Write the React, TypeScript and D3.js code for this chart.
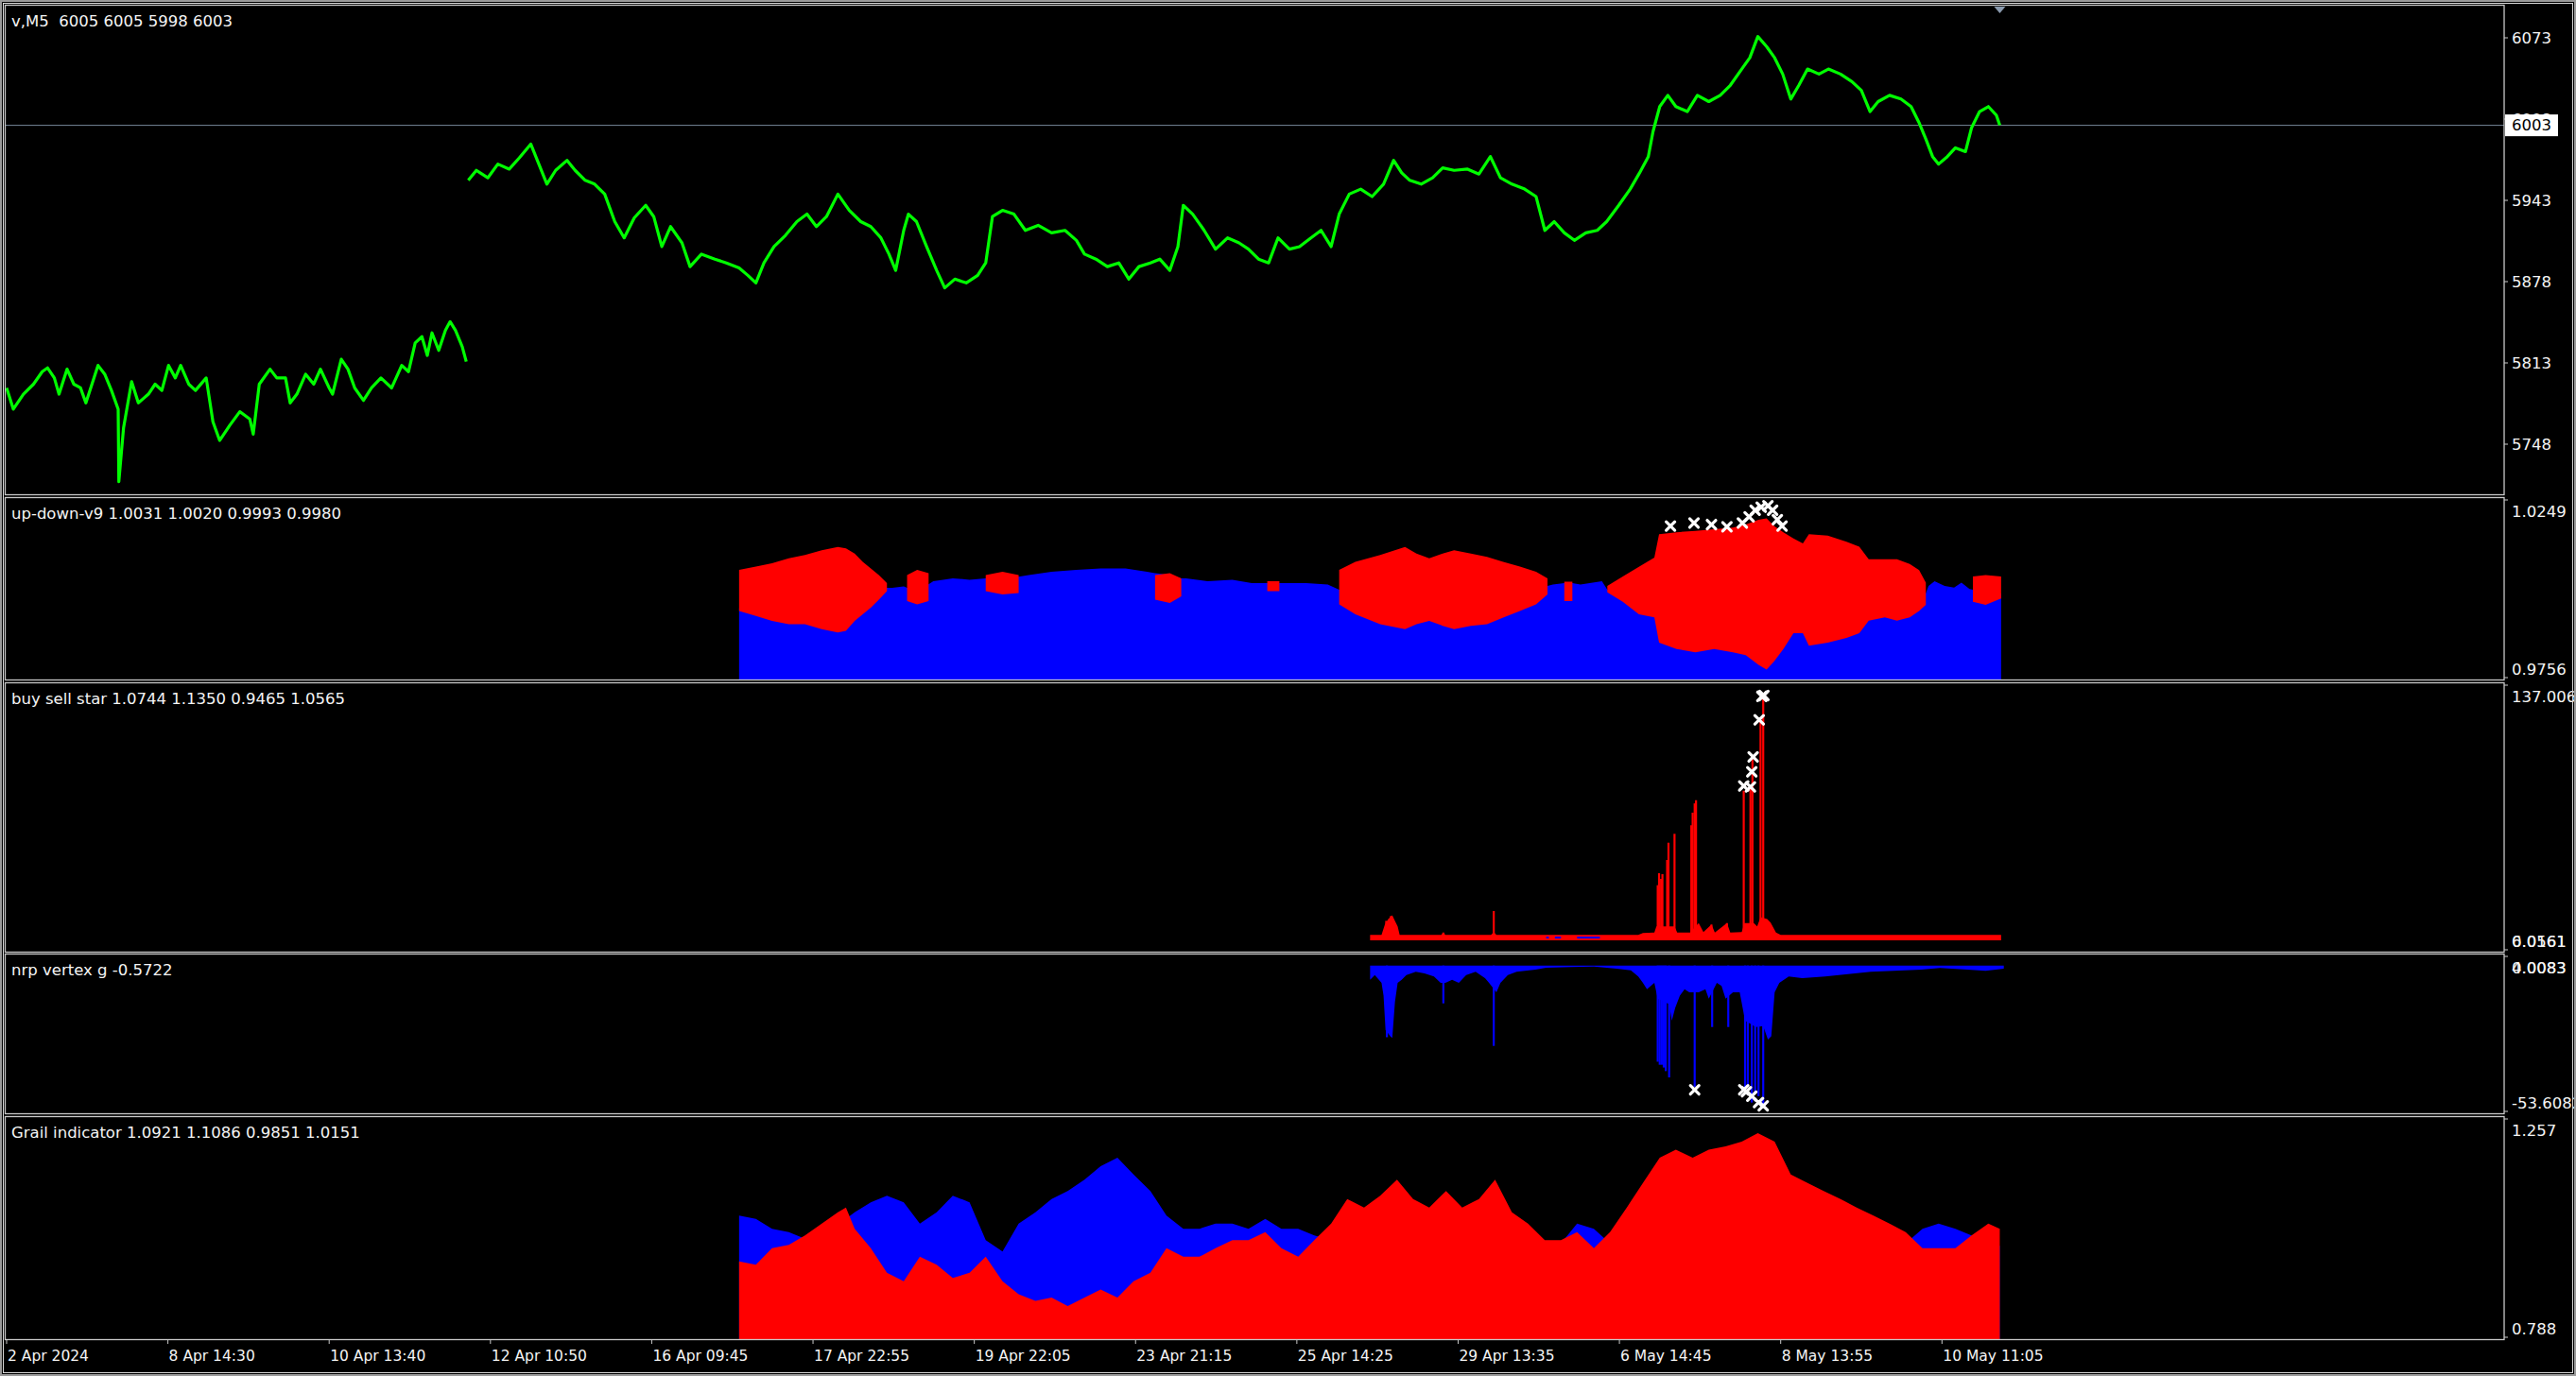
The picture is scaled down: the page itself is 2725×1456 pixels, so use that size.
import React from 'react';
import * as d3 from 'd3';

// ---------- DATA ----------
const timeLabels = ['2 Apr 2024', '8 Apr 14:30', '10 Apr 13:40', '12 Apr 10:50', '16 Apr 09:45', '17 Apr 22:55', '19 Apr 22:05', '23 Apr 21:15', '25 Apr 14:25', '29 Apr 13:35', '6 May 14:45', '8 May 13:55', '10 May 11:05'];
const BARS_PER_LABEL = 24;

const priceTicks = [6073, 6008, 5943, 5878, 5813, 5748];
const lastPrice = 6003;
const mainLabel = 'v,M5  6005 6005 5998 6003';

// [bar, close] (null = gap in data)
const priceSeries: [number, number | null][] = [
  [0, 5793], [1, 5776], [2.5, 5788], [4, 5796], [5.3, 5806], [6.1, 5809], [7.1, 5801], [7.8, 5788], [9, 5808], [10, 5796],
  [11, 5793], [11.8, 5781], [13.6, 5811], [14.6, 5804], [15.6, 5791], [16.6, 5776], [16.7, 5718], [17.4, 5761], [18.6, 5798], [19.6, 5781],
  [21.1, 5788], [22.1, 5796], [23.1, 5791], [24.1, 5811], [25.1, 5801], [25.9, 5811], [27.1, 5796], [28.1, 5791], [29.7, 5801], [30.7, 5766],
  [31.7, 5751], [33.2, 5763], [34.7, 5774], [36.2, 5768], [36.7, 5756], [37.6, 5796], [39.2, 5808], [40.2, 5801], [41.5, 5801], [42.2, 5781],
  [43.2, 5788], [44.5, 5804], [45.7, 5796], [46.7, 5808], [48, 5793], [48.5, 5788], [49.8, 5816], [50.8, 5808], [51.8, 5793], [53.1, 5783],
  [54.3, 5793], [55.7, 5801], [57.3, 5793], [58.8, 5811], [59.8, 5806], [60.8, 5829], [61.8, 5834], [62.6, 5819], [63.3, 5837], [64.3, 5823],
  [65.3, 5839], [66, 5846], [66.8, 5839], [67.8, 5826], [68.4, 5814], [68.55, null],
  [68.7, 5959], [69.9, 5967], [71.6, 5961], [73.1, 5972], [74.8, 5968], [76.3, 5977], [78, 5988], [79.2, 5972], [80.4, 5956], [81.7, 5967],
  [83.4, 5975], [84.6, 5967], [86.1, 5959], [87.5, 5956], [89, 5948], [90.5, 5926], [91.9, 5913], [93.4, 5929], [95.1, 5939], [96.3, 5930],
  [97.5, 5906], [98.8, 5922], [100.5, 5909], [101.7, 5890], [103.4, 5900], [105.4, 5896], [107.1, 5893], [109, 5889], [110.3, 5883], [111.5, 5877],
  [112.7, 5893], [114.2, 5906], [115.9, 5915], [117.6, 5926], [119.1, 5932], [120.5, 5922], [122, 5930], [123.7, 5948], [125.4, 5935], [127.1, 5926],
  [128.6, 5922], [130.1, 5913], [131.3, 5900], [132.3, 5887], [133.5, 5919], [134.2, 5932], [135.4, 5926], [136.9, 5906], [138.4, 5887], [139.6, 5873],
  [141.1, 5880], [142.8, 5877], [144.5, 5883], [145.7, 5893], [146.7, 5930], [148.2, 5935], [149.9, 5932], [151.6, 5919], [153.5, 5923], [155.5, 5917],
  [157.5, 5919], [159.2, 5911], [160.4, 5900], [162.1, 5896], [163.8, 5890], [165.5, 5893], [167, 5880], [168.5, 5890], [170.2, 5893], [171.6, 5896],
  [173.1, 5887], [174.3, 5906], [175.1, 5939], [176.5, 5932], [178.2, 5919], [179.9, 5904], [181.7, 5913], [183.4, 5909], [184.8, 5904], [186.3, 5896],
  [187.8, 5893], [189.2, 5913], [190.9, 5904], [192.4, 5906], [194.1, 5913], [195.6, 5919], [197.1, 5906], [198.3, 5932], [199.8, 5948], [201.5, 5952],
  [203.2, 5946], [204.9, 5956], [206.4, 5975], [207.6, 5965], [208.8, 5959], [210.5, 5956], [212.2, 5961], [213.7, 5969], [215.4, 5967], [217.4, 5968],
  [219.1, 5964], [220.8, 5978], [222.3, 5961], [224, 5956], [225.9, 5952], [227.6, 5946], [228.9, 5919], [230.3, 5926], [231.8, 5917], [233.3, 5911],
  [235, 5917], [236.7, 5919], [238.1, 5926], [239.9, 5939], [241.6, 5952], [243, 5965], [244.3, 5978], [245, 5998], [246, 6018], [247.2, 6027],
  [248.4, 6018], [250.1, 6014], [251.6, 6027], [253.3, 6022], [255, 6027], [256.5, 6035], [258.2, 6048], [259.4, 6057], [260.6, 6074], [261.9, 6066],
  [263.1, 6057], [264.3, 6044], [265.5, 6024], [266.7, 6035], [268, 6048], [269.7, 6044], [271.1, 6048], [272.9, 6044], [274.6, 6038], [276, 6031],
  [277.3, 6014], [278.5, 6022], [280.2, 6027], [281.9, 6024], [283.4, 6018], [284.6, 6005], [285.6, 5992], [286.6, 5978], [287.5, 5972], [288.8, 5978],
  [290, 5985], [291.5, 5982], [292.4, 6001], [293.6, 6014], [294.9, 6018], [296.1, 6011], [296.6, 6003],
];

// up-down-v9: [bar, blue, redHigh, redLow]
const udLabel = 'up-down-v9 1.0031 1.0020 0.9993 0.9980';
const udRange = [0.9756, 1.0249];
const udSeries: [number, number, number | null, number | null][] = [
  [109.0, 0.9950, 1.0054, 0.9942], [111.5, 0.9950, 1.0063, 0.9929], [113.9, 0.9950, 1.0072, 0.9915], [116.4, 0.9950, 1.0085, 0.9906],
  [118.8, 0.9950, 1.0094, 0.9906], [121.3, 0.9950, 1.0107, 0.9893], [123.7, 0.9950, 1.0116, 0.9884], [124.9, 0.9950, 1.0112, 0.9888],
  [126.2, 0.9960, 1.0098, 0.9915], [127.4, 0.9980, 1.0076, 0.9933], [128.6, 0.9990, 1.0058, 0.9951], [129.8, 1.0000, 1.0040, 0.9973],
  [131.0, 1.0005, 1.0018, 0.9996], [131.8, 1.0005, null, null], [133.5, 1.0009, null, null], [134.0, 1.0005, 1.0040, 0.9969],
  [135.5, 1.0005, 1.0054, 0.9960], [137.2, 1.0015, 1.0045, 0.9969], [137.9, 1.0023, null, null], [140.8, 1.0031, null, null],
  [143.3, 1.0027, null, null], [145.7, 1.0031, 1.0040, 0.9996], [148.2, 1.0031, 1.0049, 0.9987], [150.6, 1.0035, 1.0040, 0.9991],
  [152.1, 1.0040, null, null], [155.5, 1.0049, null, null], [159.2, 1.0054, null, null], [162.8, 1.0058, null, null],
  [166.5, 1.0058, null, null], [169.7, 1.0049, null, null], [170.9, 1.0045, 1.0040, 0.9973], [173.1, 1.0040, 1.0045, 0.9964],
  [174.8, 1.0031, 1.0031, 0.9982], [175.5, 1.0031, null, null], [178.7, 1.0023, null, null], [182.4, 1.0027, null, null],
  [185.3, 1.0018, null, null], [187.6, 1.0018, 1.0023, 0.9996], [189.4, 1.0018, 1.0023, 0.9996], [190.2, 1.0018, null, null],
  [193.4, 1.0018, null, null], [196.6, 1.0014, null, null], [198.3, 1.0000, 1.0054, 0.9960], [200.7, 0.9990, 1.0076, 0.9933],
  [204.4, 0.9980, 1.0094, 0.9906], [208.1, 0.9980, 1.0116, 0.9893], [209.8, 0.9980, 1.0098, 0.9906], [211.7, 0.9980, 1.0085, 0.9915],
  [213.7, 0.9980, 1.0098, 0.9902], [215.4, 0.9980, 1.0107, 0.9893], [217.9, 0.9980, 1.0098, 0.9902], [220.3, 0.9985, 1.0089, 0.9906],
  [222.7, 0.9990, 1.0076, 0.9924], [225.2, 1.0000, 1.0063, 0.9942], [227.6, 1.0005, 1.0049, 0.9960], [229.3, 1.0010, 1.0031, 0.9987],
  [230.1, 1.0014, null, null], [231.8, 1.0018, 1.0022, 0.9969], [233.0, 1.0018, 1.0022, 0.9969], [234.2, 1.0014, null, null],
  [237.4, 1.0023, null, null], [238.2, 1.0000, 1.0010, 0.9993], [240.5, 0.9990, 1.0036, 0.9967], [242.9, 0.9980, 1.0062, 0.9933],
  [245.2, 0.9980, 1.0087, 0.9925], [245.9, 0.9950, 1.0151, 0.9856], [248.5, 0.9950, 1.0156, 0.9839], [251.3, 0.9950, 1.0160, 0.9830],
  [254.1, 0.9950, 1.0164, 0.9839], [256.9, 0.9950, 1.0169, 0.9830], [258.8, 0.9950, 1.0177, 0.9822], [260.7, 0.9950, 1.0190, 0.9796],
  [261.9, 0.9950, 1.0194, 0.9783], [263.0, 0.9950, 1.0173, 0.9805], [264.4, 0.9950, 1.0156, 0.9839], [265.9, 0.9950, 1.0139, 0.9882],
  [267.3, 0.9950, 1.0126, 0.9882], [268.2, 0.9950, 1.0151, 0.9848], [271.0, 0.9950, 1.0147, 0.9856], [273.8, 0.9950, 1.0130, 0.9869],
  [275.7, 0.9950, 1.0117, 0.9882], [277.1, 0.9960, 1.0083, 0.9916], [279.5, 0.9960, 1.0083, 0.9925], [281.3, 0.9960, 1.0083, 0.9916],
  [283.2, 0.9960, 1.0070, 0.9925], [284.6, 0.9970, 1.0053, 0.9942], [285.6, 0.9990, 1.0019, 0.9959], [286.0, 1.0010, null, null],
  [286.9, 1.0023, null, null], [288.4, 1.0010, null, null], [289.8, 1.0006, null, null], [290.9, 1.0019, null, null],
  [292.1, 1.0002, null, null], [292.6, 1.0000, 1.0036, 0.9967], [294.5, 0.9990, 1.0040, 0.9959], [296.8, 0.9990, 1.0036, 0.9976],
];
const udMarks: [number, number][] = [
  [247.6, 1.0173], [251.1, 1.0181], [253.7, 1.0177], [256.0, 1.0171], [258.3, 1.0181], [259.3, 1.0198],
  [260.2, 1.0216], [261.1, 1.0224], [262.1, 1.0228], [262.8, 1.0216], [263.5, 1.0190], [264.2, 1.0173],
];

// buy sell star
const bssLabel = 'buy sell star 1.0744 1.1350 0.9465 1.0565';
const bssRange = [-7.6, 137.006];
const bssBottomLabels = ['0.0161', '6.0561'];
const bssBody: [number, number][] = [
  [202.9, 1.5], [204.6, 1.5], [205.1, 7], [205.6, 10], [206.2, 12], [206.6, 9], [207.0, 6], [207.3, 1.5], [213.5, 1.5], [213.8, 2.7],
  [214.1, 1.5], [220.9, 1.5], [221.3, 3], [221.7, 1.5], [242.8, 1.5], [243.5, 2.5], [245.2, 2.7], [245.5, 6], [247.6, 6], [248.2, 6],
  [248.6, 2.7], [250.5, 2.7], [251.8, 7.8], [252.5, 3], [253.7, 7], [254.2, 2.7], [256.0, 7.8], [256.5, 2.7], [258.2, 3], [258.6, 7.8],
  [260.0, 7.8], [260.5, 6], [261.0, 11], [262.0, 10], [262.5, 8], [263.3, 2.7], [264.0, 1.5], [296.8, 1.5],
];
const bssSpikes: [number, number][] = [
  [205.3, 9], [206.0, 11.6], [213.8, 2.7], [221.3, 14.3], [245.7, 28.2], [245.9, 34.7], [246.2, 31.6], [246.4, 34.2], [247.1, 41.8],
  [247.3, 51.1], [248.2, 55.9], [250.7, 60.5], [250.9, 67.3], [251.2, 72.3], [251.4, 74.0], [253.7, 7.0], [256.0, 7.8], [258.5, 79.1],
  [259.5, 81.0], [259.8, 96.1], [261.0, 117.3], [261.4, 130.0],
];
const bssBlueRuns: [number, number][] = [[229.1, 229.5], [230.4, 231.3], [233.7, 237.1]];
const bssMarks: [number, number][] = [
  [258.5, 81.7], [259.5, 81.2], [259.7, 89.3], [259.9, 97.3], [260.8, 117.3], [261.2, 130.0], [261.5, 130.4],
];

// nrp vertex g
const nrpLabel = 'nrp vertex g -0.5722';
const nrpRange = [-53.6082, 4.0083];
const nrpTopLabels = ['0.0083', '4.0083'];
const nrpBody: [number, number][] = [
  [202.9, -5.15], [203.6, -3.43], [204.6, -6.28], [204.9, -10.9], [205.2, -23.4], [205.6, -24.6], [205.9, -25.7], [206.2, -26.3],
  [206.6, -13.1], [207.0, -6.28], [207.6, -5.15], [208.3, -3.43], [209.7, -2.28], [211.0, -2.85], [212.4, -4.0], [213.4, -6.28],
  [214.1, -6.28], [215.1, -5.15], [216.1, -6.28], [217.2, -3.43], [218.6, -2.28], [220.0, -4.57], [220.6, -6.28], [221.7, -9.71],
  [222.3, -6.28], [223.4, -3.43], [224.7, -2.28], [227.5, -1.48], [229.1, -0.79], [232.8, -0.56], [236.2, -0.34], [239.6, -1.14],
  [241.7, -1.71], [242.8, -4.0], [243.5, -6.28], [244.1, -8.57], [245.2, -6.28], [245.7, -12], [247.4, -14], [247.8, -20.0],
  [248.3, -15.4], [249.0, -10.9], [249.7, -8.57], [250.4, -9.71], [251.8, -9.71], [252.8, -8.57], [253.3, -12], [254.5, -6.28],
  [255.2, -7.42], [255.8, -12], [256.9, -9.71], [257.9, -9.71], [258.7, -20], [260.3, -22.3], [261.4, -22], [262.1, -26.9],
  [262.6, -25.7], [263.1, -9.71], [263.8, -6.28], [265.2, -4.0], [267.2, -4.57], [270.6, -4.0], [274.0, -3.08], [277.4, -2.28],
  [280.8, -1.94], [284.9, -1.48], [287.7, -0.9], [291.8, -1.48], [294.5, -1.94], [297.2, -1.14],
];
const nrpSpikes: [number, number][] = [
  [205.4, -26], [213.8, -13.72], [221.3, -29.15], [245.7, -34.9], [246.0, -36], [246.3, -36.0], [246.6, -37], [246.9, -38.3], [247.4, -40.6],
  [251.2, -44.0], [253.8, -22.3], [256.2, -22.3], [258.7, -45.1], [259.1, -44], [259.7, -49.7], [260.2, -46], [260.7, -47.4], [261.4, -50.9],
];
const nrpMarks: [number, number][] = [
  [251.2, -45.1], [258.5, -45.1], [258.9, -45.8], [259.7, -47.4], [260.7, -49.7], [261.4, -50.9],
];

// Grail indicator: [bar, red, blue]
const grailLabel = 'Grail indicator 1.0921 1.1086 0.9851 1.0151';
const grailRange = [0.788, 1.257];
const grailSeries: [number, number, number][] = [
  [109.0, 0.952, 1.049], [111.5, 0.945, 1.042], [113.9, 0.980, 1.021], [116.4, 0.987, 1.014], [118.8, 1.007, 1.000],
  [121.3, 1.032, 1.014], [123.7, 1.056, 1.032], [124.9, 1.066, 1.042], [126.2, 1.021, 1.056], [128.6, 0.980, 1.077],
  [131.0, 0.928, 1.091], [133.5, 0.910, 1.077], [135.9, 0.962, 1.032], [138.4, 0.945, 1.056], [140.8, 0.917, 1.091],
  [143.3, 0.928, 1.077], [145.7, 0.962, 0.997], [148.2, 0.910, 0.973], [150.6, 0.883, 1.032], [153.1, 0.869, 1.056],
  [155.5, 0.876, 1.084], [157.9, 0.858, 1.101], [160.4, 0.876, 1.125], [162.8, 0.893, 1.153], [165.3, 0.876, 1.171],
  [167.7, 0.910, 1.136], [170.2, 0.928, 1.101], [172.6, 0.980, 1.049], [175.1, 0.962, 1.021], [177.5, 0.962, 1.021],
  [179.9, 0.980, 1.032], [182.4, 0.997, 1.032], [184.8, 0.997, 1.021], [187.3, 1.014, 1.042], [189.7, 0.980, 1.021],
  [192.2, 0.962, 1.021], [194.6, 0.997, 1.007], [197.1, 1.032, 0.997], [199.5, 1.084, 0.990], [202.0, 1.066, 0.990],
  [204.4, 1.091, 0.990], [206.9, 1.125, 0.990], [209.3, 1.084, 0.990], [211.7, 1.066, 0.990], [214.2, 1.101, 0.990],
  [216.6, 1.066, 0.990], [219.1, 1.084, 0.990], [221.5, 1.125, 0.990], [224.0, 1.056, 0.990], [226.4, 1.032, 0.990],
  [228.9, 0.997, 0.990], [231.3, 0.997, 0.990], [233.7, 1.014, 1.032], [236.2, 0.980, 1.021], [238.6, 1.014, 0.990],
  [241.1, 1.066, 0.990], [243.5, 1.118, 0.990], [246.0, 1.171, 0.990], [248.4, 1.188, 0.990], [250.9, 1.171, 0.990],
  [253.3, 1.188, 0.990], [255.8, 1.195, 0.990], [258.2, 1.205, 0.990], [260.6, 1.223, 0.990], [263.1, 1.205, 0.990],
  [265.5, 1.136, 0.990], [268.0, 1.118, 0.990], [270.4, 1.101, 0.990], [272.9, 1.084, 0.990], [275.3, 1.066, 0.990],
  [277.8, 1.049, 0.990], [280.2, 1.032, 0.990], [282.6, 1.014, 0.990], [285.1, 0.980, 1.021], [287.5, 0.980, 1.032],
  [290.0, 0.980, 1.021], [292.4, 1.007, 1.007], [294.9, 1.032, 0.990], [296.6, 1.021, 0.985],
];

// ---------- LAYOUT ----------
const W = 2725, H = 1456;
const PL = 5, PR = 2649;
const panes = [
  { top: 6, bottom: 523 },
  { top: 527, bottom: 719 },
  { top: 723, bottom: 1007 },
  { top: 1010, bottom: 1178 },
  { top: 1182, bottom: 1417 },
];
const FONT = '"DejaVu Sans", Verdana, sans-serif';
const TXT = '#f4f4f4';
const FRAME = '#c8c8c8';

function Cross({ x, y }: { x: number; y: number }) {
  const s = 4.5;
  return (
    <path d={`M${x - s},${y - s}L${x + s},${y + s}M${x - s},${y + s}L${x + s},${y - s}`}
      stroke="#ffffff" strokeWidth={3.2} strokeLinecap="round" fill="none" />
  );
}

export default function App() {
  const x = d3.scaleLinear().domain([0, BARS_PER_LABEL * (timeLabels.length - 1)]).range([7, 2054.3]);
  const yMain = d3.scaleLinear().domain([priceTicks[priceTicks.length - 1], priceTicks[0]]).range([470, 40]);
  const y2 = d3.scaleLinear().domain(udRange).range([panes[1].bottom, panes[1].top]);
  const y3 = d3.scaleLinear().domain(bssRange).range([panes[2].bottom, panes[2].top]);
  const y4 = d3.scaleLinear().domain(nrpRange).range([panes[3].bottom, panes[3].top]);
  const y5 = d3.scaleLinear().domain(grailRange).range([panes[4].bottom, panes[4].top]);

  const priceLine = d3.line<[number, number | null]>()
    .defined(d => d[1] !== null)
    .x(d => x(d[0])).y(d => yMain(d[1] as number));

  const udBlue = d3.area<typeof udSeries[number]>()
    .x(d => x(d[0])).y0(panes[1].bottom).y1(d => y2(d[1]));
  const udRed = d3.area<typeof udSeries[number]>()
    .defined(d => d[2] !== null)
    .x(d => x(d[0])).y0(d => y2(d[3] as number)).y1(d => y2(d[2] as number));

  const bssArea = d3.area<[number, number]>()
    .x(d => x(d[0])).y0(y3(0) + 3).y1(d => y3(d[1]));
  const nrpArea = d3.area<[number, number]>()
    .x(d => x(d[0])).y0(y4(0)).y1(d => y4(d[1]));
  const grailBlue = d3.area<[number, number, number]>()
    .x(d => x(d[0])).y0(panes[4].bottom).y1(d => y5(d[2]));
  const grailRed = d3.area<[number, number, number]>()
    .x(d => x(d[0])).y0(panes[4].bottom).y1(d => y5(d[1]));

  const lastBar = priceSeries[priceSeries.length - 1][0];

  const paneLabels = [mainLabel, udLabel, bssLabel, nrpLabel, grailLabel];

  const sideLabel = (txt: string, y: number, key: string) => (
    <text key={key} x={2657} y={y} fill={TXT} fontSize={16.5} fontFamily={FONT} dominantBaseline="central">{txt}</text>
  );

  return (
    <div style={{ position: 'fixed', left: 0, top: 0, width: W, height: H, background: '#000' }}>
      <svg width={W} height={H} viewBox={`0 0 ${W} ${H}`} style={{ display: 'block' }}>
        <defs>
          {panes.map((p, i) => (
            <clipPath id={`clip${i}`} key={i}>
              <rect x={PL} y={p.top} width={PR - PL} height={p.bottom - p.top} />
            </clipPath>
          ))}
        </defs>
        <rect x={0} y={0} width={W} height={H} fill="#000" />

        {/* Main pane */}
        <g clipPath="url(#clip0)">
          <line x1={PL} x2={PR} y1={yMain(lastPrice)} y2={yMain(lastPrice)} stroke="#778899" strokeWidth={1} />
          <path d={priceLine(priceSeries) || ''} fill="none" stroke="#00ff00" strokeWidth={3.2} strokeLinejoin="round" />
          <path d={`M${x(lastBar) - 6},${panes[0].top + 1}L${x(lastBar) + 6},${panes[0].top + 1}L${x(lastBar)},${panes[0].top + 8}Z`} fill="#8a9aae" />
        </g>

        {/* up-down-v9 */}
        <g clipPath="url(#clip1)">
          <path d={udBlue(udSeries) || ''} fill="#0000ff" />
          <path d={udRed(udSeries) || ''} fill="#ff0000" />
          {udMarks.map((m, i) => <Cross key={i} x={x(m[0])} y={y2(m[1])} />)}
        </g>

        {/* buy sell star */}
        <g clipPath="url(#clip2)">
          <path d={bssArea(bssBody) || ''} fill="#ff0000" />
          {bssSpikes.map((s, i) => (
            <line key={i} x1={x(s[0])} x2={x(s[0])} y1={y3(0)} y2={y3(s[1])} stroke="#ff0000" strokeWidth={2.2} />
          ))}
          {bssBlueRuns.map((r, i) => (
            <line key={i} x1={x(r[0])} x2={x(r[1])} y1={y3(0)} y2={y3(0)} stroke="#0000ff" strokeWidth={2} />
          ))}
          {bssMarks.map((m, i) => <Cross key={i} x={x(m[0])} y={y3(m[1])} />)}
        </g>

        {/* nrp vertex g */}
        <g clipPath="url(#clip3)">
          <path d={nrpArea(nrpBody) || ''} fill="#0000ff" />
          {nrpSpikes.map((s, i) => (
            <line key={i} x1={x(s[0])} x2={x(s[0])} y1={y4(0)} y2={y4(s[1])} stroke="#0000ff" strokeWidth={2.2} />
          ))}
          {nrpMarks.map((m, i) => <Cross key={i} x={x(m[0])} y={y4(m[1])} />)}
        </g>

        {/* Grail */}
        <g clipPath="url(#clip4)">
          <path d={grailBlue(grailSeries) || ''} fill="#0000ff" />
          <path d={grailRed(grailSeries) || ''} fill="#ff0000" />
        </g>

        {/* Pane frames */}
        {panes.map((p, i) => (
          <rect key={i} x={PL + 0.5} y={p.top - 0.5} width={PR - PL - 0.5} height={p.bottom - p.top + 1} fill="none" stroke={FRAME} strokeWidth={1.3} />
        ))}

        {/* Pane labels */}
        {paneLabels.map((t, i) => (
          <text key={i} x={12} y={panes[i].top + 16} fill={TXT} fontSize={16.5} fontFamily={FONT} dominantBaseline="central" style={{ whiteSpace: 'pre' }}>{t}</text>
        ))}

        {/* Main price axis */}
        {priceTicks.map(t => (
          <g key={t}>
            <line x1={PR} x2={PR + 4} y1={yMain(t)} y2={yMain(t)} stroke={FRAME} strokeWidth={1} />
            {sideLabel(String(t), yMain(t), 'p' + t)}
          </g>
        ))}
        <rect x={PR + 1} y={yMain(lastPrice) - 11.5} width={56} height={23} fill="#ffffff" />
        <text x={2657} y={yMain(lastPrice)} fill="#000" fontSize={16.5} fontFamily={FONT} dominantBaseline="central">{lastPrice}</text>

        {/* Sub-pane scale labels */}
        {[
          { p: panes[1], top: [String(udRange[1])], bot: [String(udRange[0])] },
          { p: panes[2], top: [String(bssRange[1])], bot: bssBottomLabels },
          { p: panes[3], top: nrpTopLabels, bot: [String(nrpRange[0])] },
          { p: panes[4], top: [String(grailRange[1])], bot: [String(grailRange[0])] },
        ].map((s, i) => (
          <g key={i}>
            <line x1={PR} x2={PR + 4} y1={s.p.top + 2} y2={s.p.top + 2} stroke={FRAME} />
            <line x1={PR} x2={PR + 4} y1={s.p.bottom - 2} y2={s.p.bottom - 2} stroke={FRAME} />
            {s.top.map((t, j) => sideLabel(t, s.p.top + 14, `t${i}${j}`))}
            {s.bot.map((t, j) => sideLabel(t, s.p.bottom - 11, `b${i}${j}`))}
          </g>
        ))}

        {/* Time axis */}
        {timeLabels.map((t, i) => (
          <g key={t}>
            <line x1={x(i * BARS_PER_LABEL)} x2={x(i * BARS_PER_LABEL)} y1={panes[4].bottom} y2={panes[4].bottom + 5} stroke={FRAME} />
            <text x={x(i * BARS_PER_LABEL) + 1} y={1435} fill={TXT} fontSize={15.5} fontFamily={FONT} dominantBaseline="central">{t}</text>
          </g>
        ))}

        {/* Window frame */}
        <rect x={1} y={1} width={W - 2} height={H - 2} fill="none" stroke="#9a9a9a" strokeWidth={2} />
        <rect x={3.5} y={3.5} width={W - 7} height={H - 7} fill="none" stroke="#d8d8d8" strokeWidth={1} />
      </svg>
    </div>
  );
}
